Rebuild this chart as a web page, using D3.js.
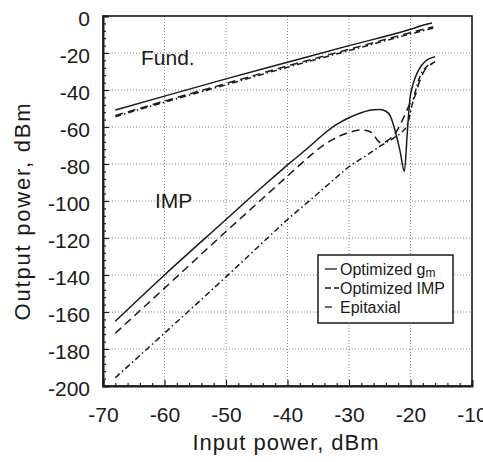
<!DOCTYPE html>
<html>
<head>
  <meta charset="UTF-8">
  <script src="https://d3js.org/d3.v7.min.js"></script>
  <style>
    html, body { margin: 0; padding: 0; background: #fff; }
    svg { display: block; font-family: "Liberation Sans", Arial, sans-serif; }
  </style>
</head>
<body>
  <svg width="483" height="462"></svg>
  <script>
    // ticks
    const xTicks = [-70, -60, -50, -40, -30, -20, -10];
    const yTicks = [0, -20, -40, -60, -80, -100, -120, -140, -160, -180, -200];

    // fundamental
    const fundGmX = [-68, -60, -50, -40, -30, -20, -18, -16.5];
    const fundGmY = [-50.8, -43.3, -34, -25, -16, -7.2, -5, -3.8];
    const fundImpX = [-68, -60, -50, -40, -30, -20, -16.3];
    const fundImpY = [-53.8, -46, -36.5, -27, -18, -9, -5.8];
    const fundEpiX = [-68, -60, -50, -40, -30, -20, -16.3];
    const fundEpiY = [-54.4, -46.6, -37.2, -27.7, -18.7, -9.7, -6.5];

    // intermodulation products
    const impGmX = [-68, -60, -50, -45, -42, -40, -38, -36, -34, -32, -30, -28, -26, -25, -24, -23.3, -22.5, -21.7, -21.0, -20.5, -20.1, -19.6, -18.8, -17.6, -16.0];
    const impGmY = [-165, -140, -110, -95, -86.3, -80.5, -75, -69.3, -63.5, -58.6, -55, -52.3, -50.7, -50.6, -51.5, -54, -62, -73, -84, -62, -45, -37, -30, -24.5, -22];
    const impImpX = [-68, -58, -50, -44.5, -40, -38, -36, -34, -32, -30, -28.2, -27, -26, -25.3, -24.7, -23.8, -22.2, -21.2, -20.1, -19.3, -18.7, -17.9, -16.8, -16.0];
    const impImpY = [-171.5, -141, -116.5, -100, -86.5, -80.5, -74.7, -69.5, -65.6, -63, -61.6, -62, -64, -67.5, -68.7, -67.5, -62, -55.5, -47.5, -43.5, -37, -30.5, -26.5, -24.7];
    const impEpiX = [-68, -60, -50, -43.4, -40, -36.3, -33, -30, -27, -25, -23, -21.5, -20.6, -19.8, -19.3, -18.5, -17.4, -16.3];
    const impEpiY = [-195.5, -171.4, -141, -120.5, -110, -99.5, -90, -81.5, -75, -70.5, -66.5, -63, -59.5, -49, -42, -33, -27.4, -25.6];

    const seriesNames = ["Optimized gm", "Optimized IMP", "Epitaxial"];

    const svg = d3.select("svg");
    const x = d3.scaleLinear().domain([-70, -10]).range([103, 472]);
    const y = d3.scaleLinear().domain([-200, 0]).range([386, 16]);

    const dash = ["none", "8,5", "6,3,1.5,3"];
    const ink = "#1a1a1a";

    // grid
    const grid = svg.append("g");
    grid.selectAll(".gx").data(xTicks.slice(1, -1)).enter().append("line")
      .attr("x1", d => x(d)).attr("x2", d => x(d))
      .attr("y1", y(0)).attr("y2", y(-200))
      .attr("stroke", "#888").attr("stroke-width", 1).attr("stroke-dasharray", "1,2");
    grid.selectAll(".gy").data(yTicks.slice(1, -1)).enter().append("line")
      .attr("y1", d => y(d)).attr("y2", d => y(d))
      .attr("x1", x(-70)).attr("x2", x(-10))
      .attr("stroke", "#888").attr("stroke-width", 1).attr("stroke-dasharray", "1,2");

    // frame
    svg.append("rect")
      .attr("x", x(-70)).attr("y", y(0))
      .attr("width", x(-10) - x(-70)).attr("height", y(-200) - y(0))
      .attr("fill", "none").attr("stroke", ink).attr("stroke-width", 1.6);

    // minor ticks
    const xMinor = d3.range(-70, -10, 2).filter(v => v % 10 !== 0);
    const yMinor = d3.range(-200, 0, 4).filter(v => v % 20 !== 0);
    svg.append("g").attr("transform", `translate(0,${y(-200)})`)
      .call(d3.axisBottom(x).tickValues(xMinor).tickSize(-3).tickFormat(""))
      .call(g => g.select(".domain").remove());
    svg.append("g").attr("transform", `translate(${x(-70)},0)`)
      .call(d3.axisLeft(y).tickValues(yMinor).tickSize(-3).tickFormat(""))
      .call(g => g.select(".domain").remove());

    // major axes (plain hyphen for the minus sign, as in the original)
    const fmt = d => String(d);
    const xAxis = svg.append("g").attr("transform", `translate(0,${y(-200)})`)
      .call(d3.axisBottom(x).tickValues(xTicks).tickSize(-6).tickPadding(21).tickFormat(fmt));
    const yAxis = svg.append("g").attr("transform", `translate(${x(-70)},0)`)
      .call(d3.axisLeft(y).tickValues(yTicks).tickSize(-6).tickPadding(13).tickFormat(fmt));
    [xAxis, yAxis].forEach(a => {
      a.select(".domain").attr("stroke", ink).attr("stroke-width", 2);
      a.selectAll("text").attr("font-size", 21).attr("fill", ink)
        .attr("font-family", "'Liberation Sans', Arial, sans-serif");
    });
    yAxis.selectAll("text").attr("dy", "0.45em");
    svg.selectAll(".tick line").attr("stroke", ink).attr("stroke-width", 1.2);

    // curves
    const line = d3.line().x(d => x(d[0])).y(d => y(d[1])).curve(d3.curveMonotoneX);
    const curves = [
      [fundGmX, fundGmY, 0], [fundImpX, fundImpY, 1], [fundEpiX, fundEpiY, 2],
      [impGmX, impGmY, 0], [impImpX, impImpY, 1], [impEpiX, impEpiY, 2]
    ];
    svg.append("g").selectAll("path").data(curves).enter().append("path")
      .attr("d", d => line(d[0].map((v, i) => [v, d[1][i]])))
      .attr("fill", "none").attr("stroke", ink).attr("stroke-width", 1.5)
      .attr("stroke-dasharray", d => dash[d[2]]);

    // labels
    svg.append("text").attr("x", 141).attr("y", 65).attr("font-size", 21).attr("fill", ink).text("Fund.");
    svg.append("text").attr("x", 155).attr("y", 208).attr("font-size", 21).attr("fill", ink).text("IMP");

    svg.append("text").attr("x", 286).attr("y", 450).attr("text-anchor", "middle")
      .attr("font-size", 22).attr("letter-spacing", "1px").attr("fill", ink).text("Input power, dBm");
    svg.append("text").attr("transform", "translate(30,211) rotate(-90)").attr("text-anchor", "middle")
      .attr("font-size", 22).attr("letter-spacing", "1.8px").attr("fill", ink).text("Output power, dBm");

    // legend
    const lg = svg.append("g");
    lg.append("rect").attr("x", 318).attr("y", 255).attr("width", 135).attr("height", 68)
      .attr("fill", "#fff").attr("stroke", ink).attr("stroke-width", 1.5);
    const markLen = [12, 14, 7];
    seriesNames.forEach((name, i) => {
      const yy = 269 + i * 19;
      lg.append("line").attr("x1", 325).attr("x2", 325 + markLen[i]).attr("y1", yy).attr("y2", yy)
        .attr("stroke", ink).attr("stroke-width", 1.3)
        .attr("stroke-dasharray", i === 1 ? "6,3" : "none");
      const t = lg.append("text").attr("x", 340).attr("y", yy + 6).attr("font-size", 16).attr("fill", ink);
      if (i === 0) {
        t.append("tspan").text("Optimized g");
        t.append("tspan").attr("font-size", 12).attr("dy", 2).text("m");
      } else {
        t.text(name);
      }
    });
  </script>
</body>
</html>
